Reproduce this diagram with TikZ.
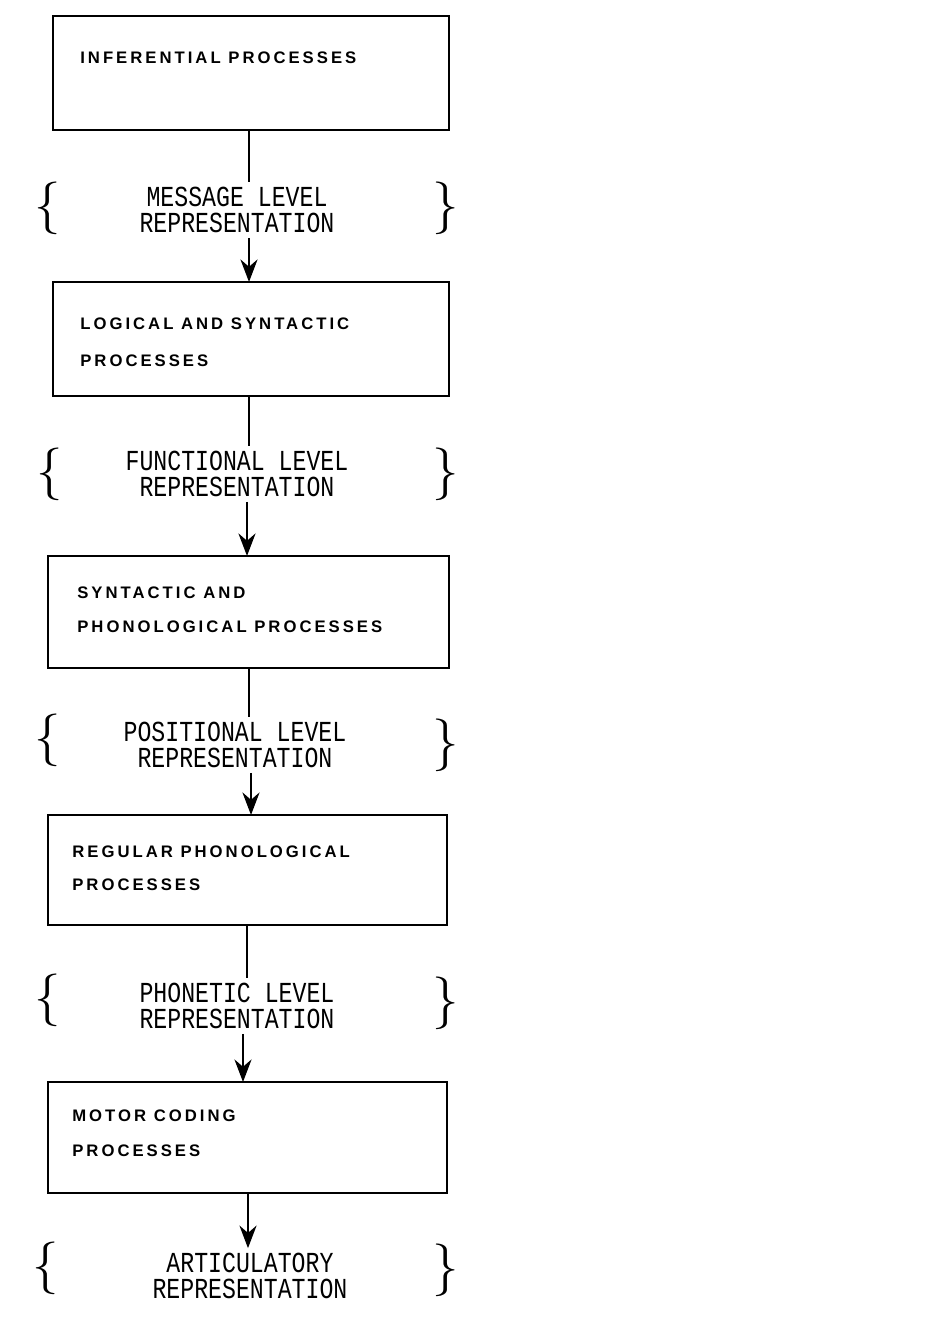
\documentclass[tikz,border=0pt]{standalone}
\usepackage{fontspec}
\usetikzlibrary{positioning, calc, arrows.meta}
\newfontfamily\boxfont[LetterSpace=18]{Liberation Sans}
\newfontfamily\levelfont{Liberation Mono}
\tikzset{
	procbox/.style={draw, line width=1.6pt},
	proctext/.style={anchor=west, inner sep=0pt, font=\boxfont\bfseries\fontsize{9.5}{10}\selectfont},
	leveltext/.style={align=center, inner sep=2pt, yscale=1.25, font=\levelfont\fontsize{13.2}{12}\selectfont},
	flow/.style={line width=1.6pt},
	flowarrow/.style={line width=1.6pt, -{Stealth[length=4.5mm, width=3.4mm]}},
	brace/.style={inner sep=0pt, font=\fontsize{30}{30}\selectfont}
}
\begin{document}
\begin{tikzpicture}[x=0.02cm, y=-0.02cm]
		\useasboundingbox (0,0) rectangle (942,1324);
		
		\draw[procbox] (53,16) rectangle (449,130);
		\coordinate (b1s) at (249,130);
		\node[proctext] (t1) at (80,58) {INFERENTIAL PROCESSES};
		
		\node[leveltext] (msg) at (237,210) {MESSAGE LEVEL\\REPRESENTATION};
		\node[brace] (msgl) at (48,208) {\{};
		\node[brace] (msgr) at (446,208) {\}};
		\draw[flow] (b1s) -- (b1s |- msg.north);
		
		\draw[procbox] (53,282) rectangle (449,396);
		\coordinate (b2n) at (249,282);
		\coordinate (b2s) at (249,396);
		\node[proctext] (t2a) at (80,324) {LOGICAL AND SYNTACTIC};
		\node[proctext] (t2b) at (80,361) {PROCESSES};
		\draw[flowarrow] (b2n |- msg.south) -- (b2n);
		
		\node[leveltext] (fun) at (237,474) {FUNCTIONAL LEVEL\\REPRESENTATION};
		\node[brace] (funl) at (50,474) {\{};
		\node[brace] (funr) at (446,474) {\}};
		\draw[flow] (b2s) -- (b2s |- fun.north);
		
		\draw[procbox] (48,556) rectangle (449,668);
		\coordinate (b3n) at (247,556);
		\coordinate (b3s) at (249,668);
		\node[proctext] (t3a) at (77,593) {SYNTACTIC AND};
		\node[proctext] (t3b) at (77,627) {PHONOLOGICAL PROCESSES};
		\draw[flowarrow] (b3n |- fun.south) -- (b3n);
		
		\node[leveltext] (pos) at (235,745) {POSITIONAL LEVEL\\REPRESENTATION};
		\node[brace] (posl) at (48,740) {\{};
		\node[brace] (posr) at (446,745) {\}};
		\draw[flow] (b3s) -- (b3s |- pos.north);
		
		\draw[procbox] (48,815) rectangle (447,925);
		\coordinate (b4n) at (251,815);
		\coordinate (b4s) at (247,925);
		\node[proctext] (t4a) at (72,852) {REGULAR PHONOLOGICAL};
		\node[proctext] (t4b) at (72,885) {PROCESSES};
		\draw[flowarrow] (b4n |- pos.south) -- (b4n);
		
		\node[leveltext] (pho) at (237,1006) {PHONETIC LEVEL\\REPRESENTATION};
		\node[brace] (phol) at (48,1000) {\{};
		\node[brace] (phor) at (446,1003) {\}};
		\draw[flow] (b4s) -- (b4s |- pho.north);
		
		\draw[procbox] (48,1082) rectangle (447,1193);
		\coordinate (b5n) at (243,1082);
		\coordinate (b5s) at (248,1193);
		\node[proctext] (t5a) at (72,1116) {MOTOR CODING};
		\node[proctext] (t5b) at (72,1151) {PROCESSES};
		\draw[flowarrow] (b5n |- pho.south) -- (b5n);
		
		\node[leveltext] (art) at (250,1276) {ARTICULATORY\\REPRESENTATION};
		\node[brace] (artl) at (46,1268) {\{};
		\node[brace] (artr) at (446,1270) {\}};
		\draw[flowarrow] (b5s) -- (b5s |- art.north);
		
\end{tikzpicture}
\end{document}
